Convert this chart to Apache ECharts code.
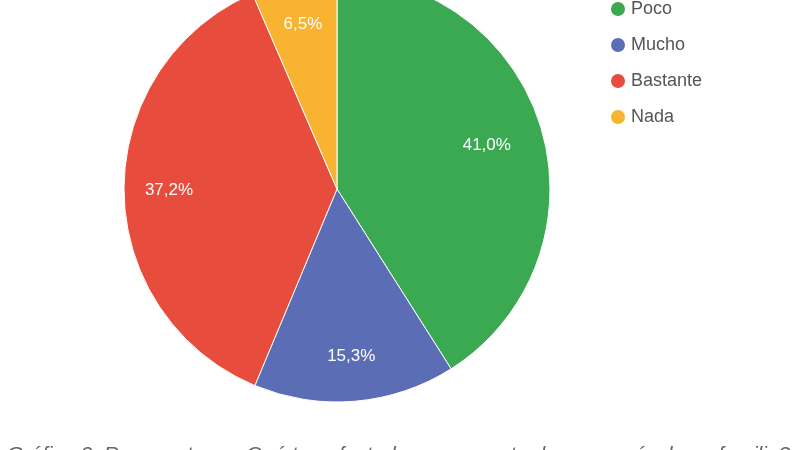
<!DOCTYPE html>
<html>
<head>
<meta charset="utf-8">
<script src="https://cdn.jsdelivr.net/npm/echarts@6/dist/echarts.min.js"></script>
<style>
html,body{margin:0;padding:0;background:#fff;}
#c{width:800px;height:450px;}
</style>
</head>
<body>
<div id="c"></div>
<script>
const categories = ['Poco', 'Mucho', 'Bastante', 'Nada'];
const values = [41.0, 15.3, 37.2, 6.5];
const colors = ['#3ba852', '#5b6eb5', '#e84c3d', '#f8b331'];
const caption = 'Gráfico 3. Respuesta a: ¿Qué tan afectada se encuentra la economía de su familia?';

const data = categories.map((name, i) => ({ name, value: values[i], itemStyle: { color: colors[i] } }));
const fmt = p => p.value.toFixed(1).replace('.', ',') + '%';
const labelStyle = { show: true, position: 'inside', formatter: fmt, color: '#fff', fontSize: 17, fontFamily: 'Liberation Sans, Arial' };

// Transparent overlay ring used only to place the percentage labels
function overlay(innerR, showIdx) {
  return {
    type: 'pie',
    center: [337, 189],
    radius: [innerR, 213],
    startAngle: 90,
    clockwise: true,
    silent: true,
    legendHoverLink: false,
    itemStyle: { color: 'rgba(0,0,0,0)' },
    label: labelStyle,
    labelLine: { show: false },
    data: categories.map((name, i) => ({ name: name + ' ', value: values[i], label: { show: showIdx(i) } }))
  };
}

const chart = echarts.init(document.getElementById('c'), null, { renderer: 'canvas' });
chart.setOption({
  backgroundColor: '#fff',
  animation: false,
  legend: {
    orient: 'vertical',
    left: 604,
    top: -5,
    icon: 'circle',
    itemWidth: 16,
    itemHeight: 16,
    itemGap: 18,
    textStyle: { fontFamily: 'Liberation Sans, Arial', fontSize: 18, lineHeight: 18, color: '#555' },
    data: categories
  },
  graphic: [{
    type: 'text',
    left: 7,
    top: 445,
    style: { text: caption, font: 'italic 21px "Liberation Sans", Arial', fill: '#666' }
  }],
  series: [{
    type: 'pie',
    center: [337, 189],
    radius: [0, 213],
    startAngle: 90,
    clockwise: true,
    silent: true,
    label: { show: false },
    labelLine: { show: false },
    itemStyle: { borderColor: '#fff', borderWidth: 1 },
    data: data
  },
  overlay(93, i => i === 0),
  overlay(117, i => i !== 0)
  ]
});
</script>
</body>
</html>
